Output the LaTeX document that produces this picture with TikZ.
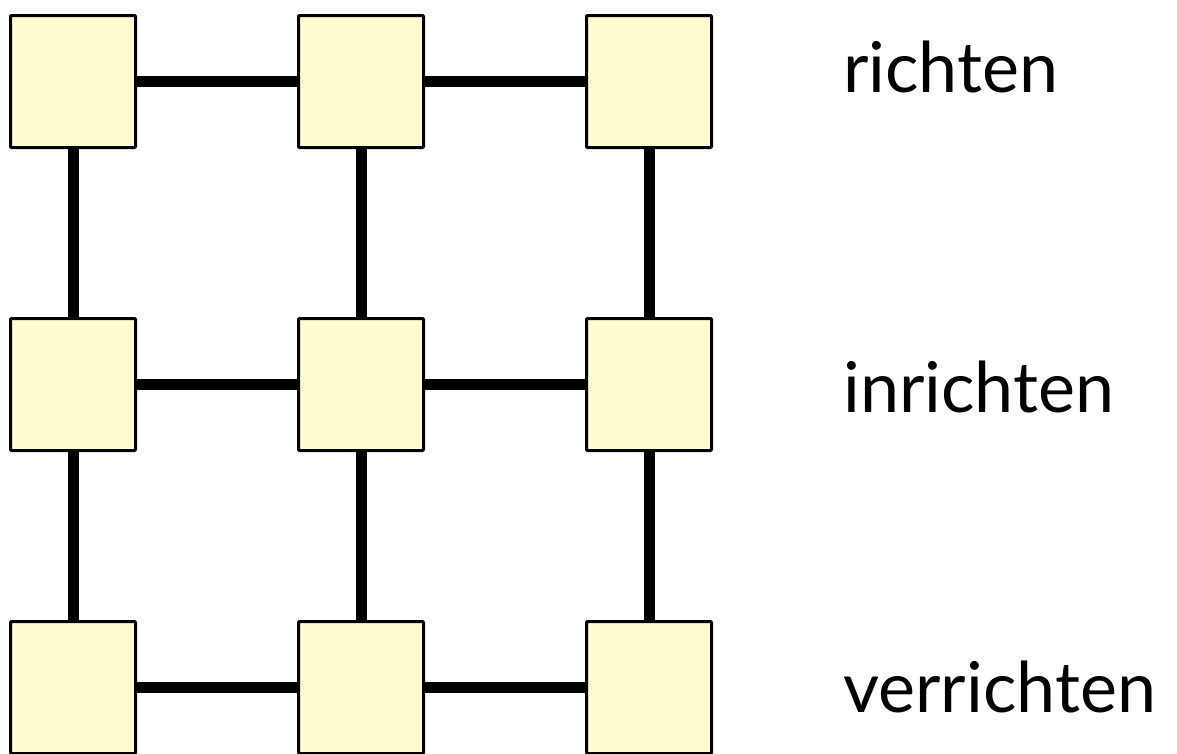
\documentclass[tikz,border=0pt]{standalone}
\usepackage{fontspec}
\setmainfont{Lato}
\usetikzlibrary{positioning}
\definecolor{boxfill}{RGB}{255,253,208}

\begin{document}
\begin{tikzpicture}[x=1pt,y=-1pt,
        box/.style={rectangle, draw=black, fill=boxfill, line width=3pt,
          minimum width=125pt, minimum height=132pt, inner sep=0pt, rounded corners=1pt},
        link/.style={line width=11pt},
        word/.style={anchor=base west, inner sep=0pt, font=\fontsize{70}{84}\selectfont}
      ]
      \useasboundingbox (0,0) rectangle (1177,753);
      \foreach \r/\y in {0/81.5,1/384.5,2/687.5}
        \foreach \c/\x in {0/73,1/361,2/649}
          \node [box] (n\r\c) at (\x,\y) {};
      \foreach \r in {0,1,2}
        \path [draw,link] (n\r0) -- (n\r1) (n\r1) -- (n\r2);
      \foreach \c in {0,1,2}
        \path [draw,link] (n0\c) -- (n1\c) (n1\c) -- (n2\c);
      \node [word] (w0) at (843,92) {richten};
      \node [word] (w1) at (843,412) {inrichten};
      \node [word] (w2) at (843,712) {verrichten};
    \end{tikzpicture}
\end{document}
